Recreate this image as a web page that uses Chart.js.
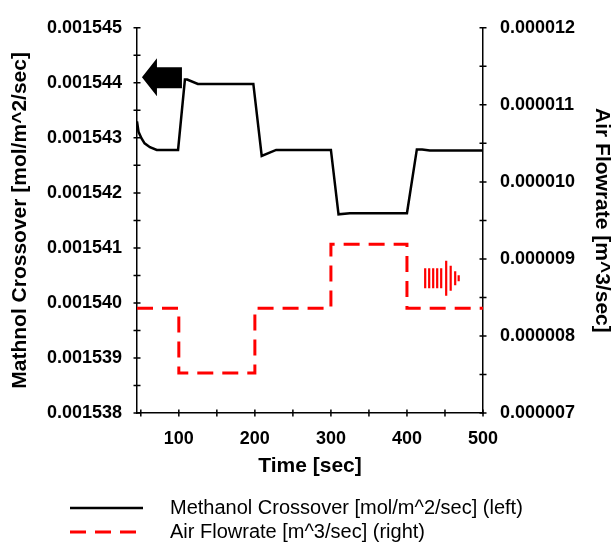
<!DOCTYPE html>
<html>
<head>
<meta charset="utf-8">
<script src="https://cdn.jsdelivr.net/npm/chart.js@4.4.1/dist/chart.umd.min.js"></script>
<style>
  html, body { margin: 0; padding: 0; background: #fff; }
  #wrap { width: 613px; height: 548px; position: relative; }
</style>
</head>
<body>
<div id="wrap"><canvas id="crossoverChart"></canvas></div>
<script>
// methanol crossover response (left axis)
const methanolTimes = [45, 47, 51, 55, 62, 71, 99, 108, 111, 125, 198, 209, 228, 300, 310, 325, 400, 413, 420, 430, 500];
const methanolValues = [
  0.0015433, 0.00154311, 0.00154299, 0.0015429, 0.00154283, 0.00154278, 0.00154278,
  0.00154406, 0.00154406, 0.00154398, 0.00154398, 0.00154267, 0.00154278, 0.00154278,
  0.00154161, 0.00154163, 0.00154163, 0.00154279, 0.00154279, 0.00154277, 0.00154277
];

// air flowrate steps (right axis)
const flowTimes = [45, 100, 100, 200, 200, 300, 300, 400, 400, 500];
const flowValues = [
  0.00000836, 0.00000836, 0.00000752, 0.00000752, 0.00000836,
  0.00000836, 0.00000919, 0.00000919, 0.00000836, 0.00000836
];

const xTicks = [50, 100, 150, 200, 250, 300, 350, 400, 450, 500];
const leftTicks = [
  0.001538, 0.0015385, 0.001539, 0.0015395, 0.00154, 0.0015405, 0.001541, 0.0015415,
  0.001542, 0.0015425, 0.001543, 0.0015435, 0.001544, 0.0015445, 0.001545
];
const rightTicks = [
  0.000007, 0.0000075, 0.000008, 0.0000085, 0.000009, 0.0000095,
  0.00001, 0.0000105, 0.000011, 0.0000115, 0.000012
];

const seriesLabels = ["Methanol Crossover [mol/m^2/sec] (left)", "Air Flowrate [m^3/sec] (right)"];

const FONT = '"Liberation Sans", Arial, Helvetica, sans-serif';
Chart.defaults.font.family = FONT;
Chart.defaults.color = "#000";

const tickFont = { family: FONT, size: 18, weight: "bold" };
const titleFont = { family: FONT, size: 21, weight: "bold", lineHeight: 1.1 };

// label only the whole-micro values on the y axes
const microLabel = (value) => (Math.round(value * 1e7) % 10 === 0 ? value.toFixed(6) : "");

// small tick marks that cross each axis line
const crossTicks = {
  id: "crossTicks",
  afterDraw(chart) {
    const { ctx, chartArea, scales } = chart;
    ctx.save();
    ctx.strokeStyle = "#000";
    ctx.lineWidth = 1.5;
    ctx.beginPath();
    scales.x.ticks.forEach((t) => {
      const px = scales.x.getPixelForValue(t.value);
      ctx.moveTo(px, chartArea.bottom - 3.5);
      ctx.lineTo(px, chartArea.bottom + 3.5);
    });
    scales.y.ticks.forEach((t) => {
      const py = scales.y.getPixelForValue(t.value);
      ctx.moveTo(chartArea.left - 3.5, py);
      ctx.lineTo(chartArea.left + 3.5, py);
    });
    scales.y2.ticks.forEach((t) => {
      const py = scales.y2.getPixelForValue(t.value);
      ctx.moveTo(chartArea.right - 3.5, py);
      ctx.lineTo(chartArea.right + 3.5, py);
    });
    ctx.stroke();
    ctx.restore();
  }
};

// direction arrows: solid one toward the left axis, striped one toward the right axis
const axisArrows = {
  id: "axisArrows",
  afterDatasetsDraw(chart) {
    const { ctx, scales } = chart;
    ctx.save();

    const bx = scales.x.getPixelForValue(51.5);
    const by = scales.y.getPixelForValue(0.0015441);
    ctx.fillStyle = "#000";
    ctx.beginPath();
    ctx.moveTo(bx, by);
    ctx.lineTo(bx + 15, by - 19);
    ctx.lineTo(bx + 15, by - 10);
    ctx.lineTo(bx + 40, by - 10);
    ctx.lineTo(bx + 40, by + 11);
    ctx.lineTo(bx + 15, by + 11);
    ctx.lineTo(bx + 15, by + 19);
    ctx.closePath();
    ctx.fill();

    const rx = scales.x.getPixelForValue(470);
    const ry = scales.y2.getPixelForValue(0.00000875);
    ctx.strokeStyle = "#ff0000";
    ctx.lineWidth = 2.2;
    ctx.beginPath();
    [-35, -31, -27, -23, -19].forEach((dx) => {
      ctx.moveTo(rx + dx, ry - 10);
      ctx.lineTo(rx + dx, ry + 10);
    });
    [[-14, 17.5], [-9.5, 12.5], [-5, 7], [-1.5, 3]].forEach(([dx, h]) => {
      ctx.moveTo(rx + dx, ry - h);
      ctx.lineTo(rx + dx, ry + h);
    });
    ctx.stroke();
    ctx.restore();
  }
};

// legend rows under the x axis title
const bottomLegend = {
  id: "bottomLegend",
  afterDraw(chart) {
    const { ctx } = chart;
    ctx.save();
    chart.data.datasets.forEach((ds, i) => {
      const y = 508 + i * 24;
      ctx.strokeStyle = ds.borderColor;
      ctx.lineWidth = ds.borderWidth;
      ctx.setLineDash(ds.borderDash || []);
      ctx.beginPath();
      ctx.moveTo(70, y);
      ctx.lineTo(143, y);
      ctx.stroke();
      ctx.setLineDash([]);
      ctx.fillStyle = "#000";
      ctx.font = `20px ${FONT}`;
      ctx.textBaseline = "middle";
      ctx.fillText(ds.label, 170, y);
    });
    ctx.restore();
  }
};

new Chart(document.getElementById("crossoverChart"), {
  type: "line",
  data: {
    datasets: [
      {
        label: seriesLabels[0],
        data: methanolTimes.map((t, i) => ({ x: t, y: methanolValues[i] })),
        yAxisID: "y",
        borderColor: "#000",
        borderWidth: 2.5,
        pointRadius: 0,
        tension: 0
      },
      {
        label: seriesLabels[1],
        data: flowTimes.map((t, i) => ({ x: t, y: flowValues[i] })),
        yAxisID: "y2",
        borderColor: "#ff0000",
        borderWidth: 3,
        borderDash: [16, 9],
        pointRadius: 0,
        tension: 0
      }
    ]
  },
  options: {
    responsive: true,
    maintainAspectRatio: false,
    animation: false,
    layout: { padding: { top: 17, bottom: 70, left: 0, right: 0 } },
    plugins: {
      legend: { display: false },
      tooltip: { enabled: false }
    },
    scales: {
      x: {
        type: "linear",
        min: 45,
        max: 500,
        afterBuildTicks: (scale) => { scale.ticks = xTicks.map((v) => ({ value: v })); },
        afterFit: (scale) => { scale.height = 65; },
        ticks: {
          font: tickFont,
          padding: 15,
          maxRotation: 0,
          autoSkip: false,
          callback: (value) => (value % 100 === 0 ? String(value) : "")
        },
        grid: { drawOnChartArea: false, drawTicks: false },
        border: { color: "#000", width: 1.5 },
        title: { display: true, text: "Time [sec]", font: titleFont, padding: 0 }
      },
      y: {
        position: "left",
        min: 0.001538,
        max: 0.001545,
        afterBuildTicks: (scale) => { scale.ticks = leftTicks.map((v) => ({ value: v })); },
        afterFit: (scale) => { scale.width = 137; },
        ticks: { font: tickFont, padding: 15, autoSkip: false, callback: microLabel },
        grid: { drawOnChartArea: false, drawTicks: false },
        border: { color: "#000", width: 1.5 },
        title: { display: true, text: "Mathnol Crossover [mol/m^2/sec]", font: titleFont, padding: { top: 9, bottom: 0 } }
      },
      y2: {
        position: "right",
        min: 0.000007,
        max: 0.000012,
        afterBuildTicks: (scale) => { scale.ticks = rightTicks.map((v) => ({ value: v })); },
        afterFit: (scale) => { scale.width = 130; },
        ticks: { font: tickFont, padding: 17, autoSkip: false, callback: microLabel },
        grid: { drawOnChartArea: false, drawTicks: false },
        border: { color: "#000", width: 1.5 },
        title: { display: true, text: "Air Flowrate [m^3/sec]", font: titleFont, padding: { top: 0, bottom: 0 } }
      }
    }
  },
  plugins: [crossTicks, axisArrows, bottomLegend]
});
</script>
</body>
</html>
